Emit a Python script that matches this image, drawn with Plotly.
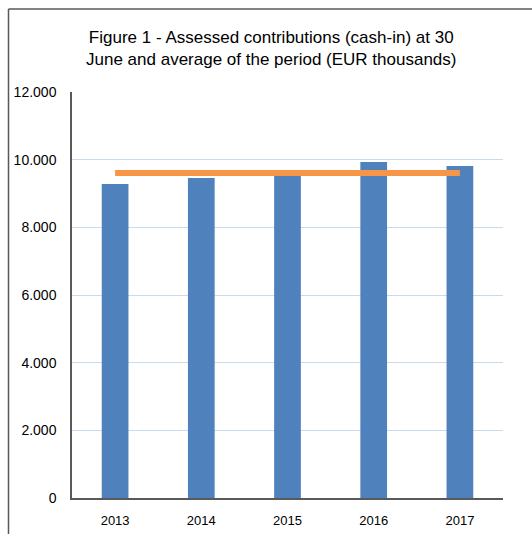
import plotly.graph_objects as go

years = ["2013", "2014", "2015", "2016", "2017"]
contributions = [9280, 9460, 9550, 9930, 9810]
average = [9606, 9606, 9606, 9606, 9606]
y_ticks = [0, 2000, 4000, 6000, 8000, 10000, 12000]

W, H = 532, 534
L, R, T, B = 72, 29, 92, 36
pw, ph = W - L - R, H - T - B

def px(x):
    return (x - L) / pw

def py(y):
    return (H - B - y) / ph

fig = go.Figure()
fig.add_trace(go.Bar(x=years, y=contributions, marker=dict(color="#4f81bd", line=dict(width=0)),
                     showlegend=False))
fig.add_trace(go.Scatter(x=years, y=average, mode="lines",
                         line=dict(color="#f79646", width=6), showlegend=False))

fig.update_layout(
    width=W, height=H,
    margin=dict(l=L, r=R, t=T, b=B, autoexpand=False),
    paper_bgcolor="white", plot_bgcolor="white",
    bargap=0.69,
    separators=",.",
    font=dict(family="Liberation Sans, Arial", color="#000000"),
    xaxis=dict(showgrid=False, showline=True, linecolor="#595959", linewidth=1.5,
               ticks="", tickfont=dict(size=13), ticklabelstandoff=10, fixedrange=True),
    yaxis=dict(range=[0, 12000], tickvals=y_ticks, tickformat=",d",
               showgrid=True, gridcolor="#c6dbef", gridwidth=1,
               showline=True, linecolor="#595959", linewidth=1.5,
               zeroline=False, ticks="", tickfont=dict(size=14), ticklabelstandoff=11),
    annotations=[
        dict(text="Figure 1 - Assessed contributions (cash-in) at 30<br>June and average of the period (EUR thousands)",
             xref="paper", yref="paper", x=px(271), y=py(49), xanchor="center", yanchor="middle",
             showarrow=False, align="center",
             font=dict(family="Liberation Sans, Arial", size=17, color="#000000")),
    ],
    shapes=[
        dict(type="line", xref="paper", yref="paper", x0=px(8.5), x1=px(W + 2), y0=py(9), y1=py(9),
             line=dict(color="#595959", width=1.5)),
        dict(type="line", xref="paper", yref="paper", x0=px(8.5), x1=px(8.5), y0=py(9), y1=py(H + 2),
             line=dict(color="#595959", width=1.5)),
    ],
)

fig.write_html("out.html", config={"displayModeBar": False},
               post_script="document.body.style.margin='0';document.body.style.overflow='hidden';")
